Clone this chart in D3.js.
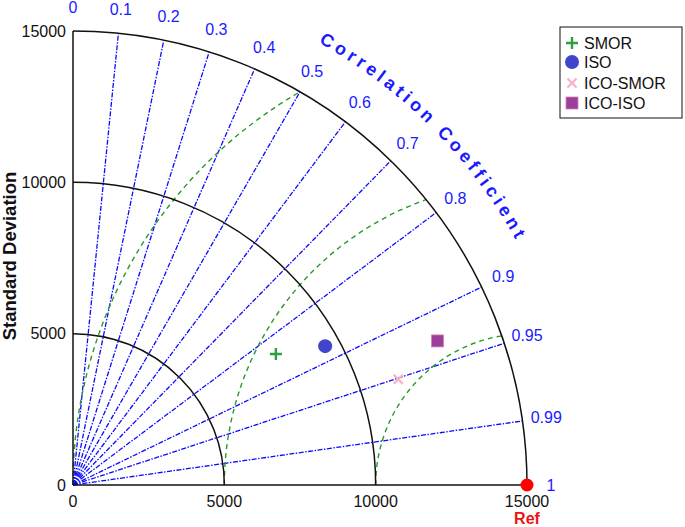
<!DOCTYPE html>
<html>
<head>
<meta charset="utf-8">
<script src="https://cdn.jsdelivr.net/npm/d3@7"></script>
<style>
  body { margin: 0; background: #fff; }
  text { font-family: "Liberation Sans", Arial, sans-serif; }
</style>
</head>
<body>
<svg id="chart" width="685" height="527"></svg>
<script>
// taylor diagram: std dev on the radius, correlation on the angle
var models = ["SMOR", "ISO", "ICO-SMOR", "ICO-ISO"];
var stdDevs = [7980, 9510, 11300, 12950];
var corrs = [0.840, 0.876, 0.951, 0.930];
var refStd = 15000;

var corrTicks = [0, 0.1, 0.2, 0.3, 0.4, 0.5, 0.6, 0.7, 0.8, 0.9, 0.95, 0.99, 1];
var stdTicks = [0, 5000, 10000, 15000];
var stdArcs = [5000, 10000, 15000];
var rmsArcs = [5000, 10000, 15000];

var colors = ["#2e9e3e", "#3f46cc", "#f7b3c8", "#9b3f9b"];

var svg = d3.select("#chart"),
  cx = 73,
  cy = 485;

var r = d3.scaleLinear().domain([0, 15000]).range([0, 454]);
var rMax = 15000;

var g = svg.append("g").attr("transform", "translate(" + cx + "," + cy + ")");

function px(s, c) { return r(s * c); }
function py(s, c) { return -r(s * Math.sqrt(Math.max(0, 1 - c * c))); }

// correlation rays
g.selectAll(".ray")
  .data(corrTicks.filter(function(c) { return c > 0 && c < 1; }))
  .enter().append("line")
  .attr("x1", 0).attr("y1", 0)
  .attr("x2", function(c) { return px(rMax, c); })
  .attr("y2", function(c) { return py(rMax, c); })
  .attr("stroke", "#0a0aff")
  .attr("stroke-width", 1.3)
  .attr("stroke-dasharray", "5,1.5,1.5,1.5");

// rms arcs around the reference point
g.selectAll(".rms")
  .data(rmsArcs)
  .enter().append("path")
  .attr("d", function(R) {
    var p = d3.path(),
      phiEnd = Math.acos(-R / (2 * rMax)),
      ox = r(refStd);
    p.moveTo(ox - r(R), 0);
    p.arc(ox, 0, r(R), -Math.PI, -phiEnd, false);
    return p.toString();
  })
  .attr("fill", "none")
  .attr("stroke", "#2a9a2a")
  .attr("stroke-width", 1.4)
  .attr("stroke-dasharray", "5,4");

// std dev arcs
g.selectAll(".sd")
  .data(stdArcs)
  .enter().append("path")
  .attr("d", function(s) {
    var p = d3.path();
    p.moveTo(0, -r(s));
    p.arc(0, 0, r(s), -Math.PI / 2, 0, false);
    return p.toString();
  })
  .attr("fill", "none")
  .attr("stroke", "#111")
  .attr("stroke-width", 1.5);

// axes
g.append("line").attr("x1", 0).attr("y1", 0).attr("x2", 0).attr("y2", -r(rMax))
  .attr("stroke", "#111").attr("stroke-width", 1.5);
g.append("line").attr("x1", 0).attr("y1", 0).attr("x2", r(rMax)).attr("y2", 0)
  .attr("stroke", "#111").attr("stroke-width", 1.5);

g.selectAll(".ytick")
  .data(stdTicks)
  .enter().append("text")
  .attr("x", -7)
  .attr("y", function(s) { return -r(s); })
  .attr("dy", "0.35em")
  .attr("text-anchor", "end")
  .attr("font-size", 16)
  .attr("fill", "#111")
  .text(function(s) { return s; });

g.selectAll(".xtick")
  .data(stdTicks)
  .enter().append("text")
  .attr("x", function(s) { return r(s); })
  .attr("y", 22)
  .attr("text-anchor", "middle")
  .attr("font-size", 16)
  .attr("fill", "#111")
  .text(function(s) { return s; });

// correlation labels
g.selectAll(".clab")
  .data(corrTicks)
  .enter().append("text")
  .attr("x", function(c) { return px(rMax, c) * 478 / 454; })
  .attr("y", function(c) { return py(rMax, c) * 478 / 454; })
  .attr("dy", "0.35em")
  .attr("text-anchor", "middle")
  .attr("font-size", 16)
  .attr("fill", "#1a1aff")
  .text(function(c) { return c; });

// curved axis title
var arcR = 506;
var tp = d3.path();
var a0 = -72 * Math.PI / 180, a1 = -18 * Math.PI / 180;
tp.moveTo(arcR * Math.cos(a0), arcR * Math.sin(a0));
tp.arc(0, 0, arcR, a0, a1, false);
g.append("path").attr("id", "ccPath").attr("d", tp.toString()).attr("fill", "none");
g.append("text")
  .attr("font-size", 18)
  .attr("font-weight", "bold")
  .attr("fill", "#1a1aff")
  .append("textPath")
  .attr("href", "#ccPath")
  .attr("startOffset", "50%")
  .attr("text-anchor", "middle")
  .attr("textLength", 282)
  .attr("lengthAdjust", "spacing")
  .text("Correlation Coefficient");

svg.append("text")
  .attr("transform", "translate(16,256) rotate(-90)")
  .attr("text-anchor", "middle")
  .attr("font-size", 18.5)
  .attr("font-weight", "bold")
  .attr("fill", "#111")
  .text("Standard Deviation");

// reference point
g.append("circle").attr("cx", r(refStd)).attr("cy", 0).attr("r", 6.5).attr("fill", "#ff0000");
g.append("text").attr("x", r(refStd)).attr("y", 39)
  .attr("text-anchor", "middle").attr("font-size", 16).attr("font-weight", "bold")
  .attr("fill", "#ee1111").text("Ref");

function drawMarker(sel, i, x, y) {
  if (i === 0) {
    sel.append("path").attr("d", "M" + (x - 6) + "," + y + "H" + (x + 6) + "M" + x + "," + (y - 6) + "V" + (y + 6))
      .attr("stroke", colors[0]).attr("stroke-width", 2.4);
  } else if (i === 1) {
    sel.append("circle").attr("cx", x).attr("cy", y).attr("r", 7).attr("fill", colors[1]);
  } else if (i === 2) {
    sel.append("path").attr("d", "M" + (x - 4.5) + "," + (y - 4.5) + "L" + (x + 4.5) + "," + (y + 4.5) + "M" + (x - 4.5) + "," + (y + 4.5) + "L" + (x + 4.5) + "," + (y - 4.5))
      .attr("stroke", colors[2]).attr("stroke-width", 2.4);
  } else {
    sel.append("rect").attr("x", x - 6).attr("y", y - 6).attr("width", 12).attr("height", 12)
      .attr("fill", colors[3]).attr("stroke", "#d77fb8").attr("stroke-width", 0.8);
  }
}

models.forEach(function(m, i) {
  drawMarker(g, i, px(stdDevs[i], corrs[i]), py(stdDevs[i], corrs[i]));
});

// legend
var lg = svg.append("g").attr("transform", "translate(560,27)");
lg.append("rect").attr("width", 122).attr("height", 91)
  .attr("fill", "#fff").attr("stroke", "#111").attr("stroke-width", 1);
var rowY = [16, 35, 56, 76];
models.forEach(function(m, i) {
  drawMarker(lg, i, 12, rowY[i]);
  lg.append("text").attr("x", 24).attr("y", rowY[i]).attr("dy", "0.35em")
    .attr("font-size", 16).attr("fill", "#111").text(m);
});
</script>
</body>
</html>
